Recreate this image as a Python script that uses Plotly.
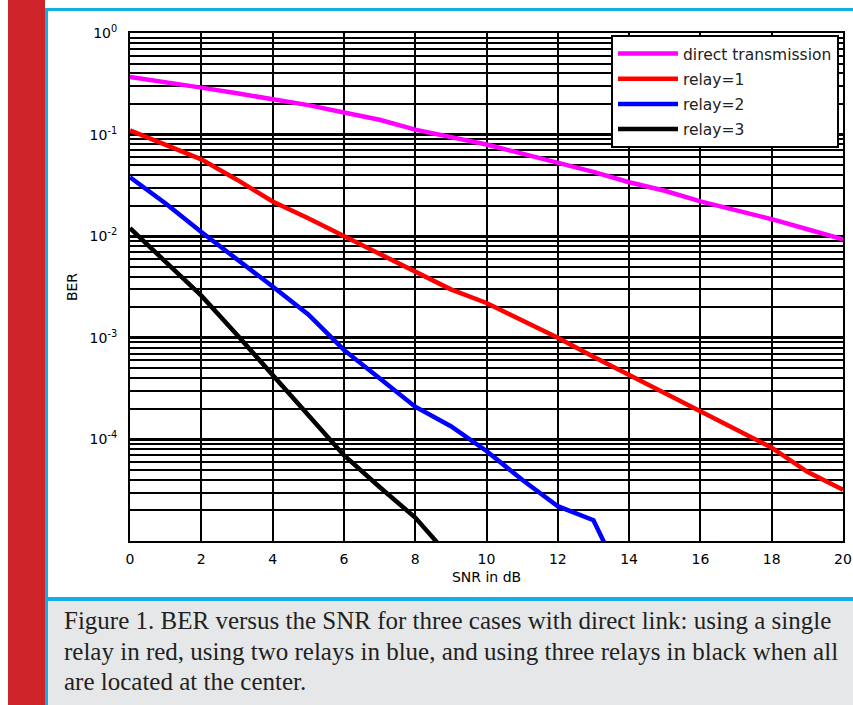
import plotly.graph_objects as go

# ---- data ----
snr = list(range(0, 21))
ber_direct = [0.37, 0.33, 0.29, 0.255, 0.225, 0.195, 0.165, 0.14, 0.112, 0.095, 0.080,
              0.065, 0.053, 0.043, 0.034, 0.028, 0.022, 0.018, 0.0147, 0.0117, 0.0093]
ber_relay1 = [0.11, 0.08, 0.057, 0.036, 0.022, 0.015, 0.010, 0.0066, 0.0044, 0.003, 0.0022,
              0.0015, 0.001, 6.5e-4, 4.3e-4, 2.8e-4, 1.9e-4, 1.25e-4, 8.3e-5, 4.8e-5, 3.2e-5]
snr_relay2 = list(range(0, 15))
ber_relay2 = [0.038, 0.021, 0.011, 0.006, 0.0032, 0.0017, 7.6e-4, 4.0e-4, 2.1e-4, 1.35e-4,
              7.7e-5, 4.0e-5, 2.2e-5, 1.6e-5, 3.0e-6]
snr_relay3 = list(range(0, 10))
ber_relay3 = [0.012, 5.6e-3, 2.6e-3, 1.07e-3, 4.3e-4, 1.7e-4, 7.0e-5, 3.4e-5, 1.7e-5, 6.8e-6]

series_names = ["direct transmission", "relay=1", "relay=2", "relay=3"]
series_colors = ["#ff00ff", "#ff0000", "#0000ff", "#000000"]

x_ticks = list(range(0, 21, 2))
y_major = [1, 1e-1, 1e-2, 1e-3, 1e-4]
y_major_text = ["10<sup>0</sup>", "10<sup>-1</sup>", "10<sup>-2</sup>", "10<sup>-3</sup>", "10<sup>-4</sup>"]
y_minor = [k * 10 ** e for e in range(-5, 0) for k in range(2, 10)]

caption_lines = [
    "Figure 1. BER versus the SNR for three cases with direct link: using a single",
    "relay in red, using two relays in blue, and using three relays in black when all",
    "are located at the center.",
]

# ---- page geometry ----
W, H = 853, 705
L, R, T, B = 130, 843, 33, 541


def px(x):
    return (x - L) / (R - L)


def py(y):
    return (B - y) / (B - T)


fig = go.Figure()
xs = [snr, snr, snr_relay2, snr_relay3]
ys = [ber_direct, ber_relay1, ber_relay2, ber_relay3]
for i in range(4):
    fig.add_trace(go.Scatter(
        x=xs[i], y=ys[i], mode="lines", name=series_names[i],
        legendgroup=str(i),
        line=dict(color=series_colors[i], width=4.5),
    ))

font = "DejaVu Sans"
fig.update_layout(
    width=W, height=H,
    margin=dict(l=L, r=W - R, t=T, b=H - B, autoexpand=False),
    paper_bgcolor="white", plot_bgcolor="white",
    font=dict(family=font, size=14, color="black"),
    showlegend=True,
    legend=dict(
        x=px(611), y=py(35), xanchor="left", yanchor="top",
        bgcolor="white", bordercolor="black", borderwidth=2,
        font=dict(family=font, size=15.5, color="#222"),
        itemwidth=60, tracegroupgap=2,
    ),
    xaxis=dict(
        range=[0, 20], tickvals=x_ticks, showgrid=True, gridcolor="black", gridwidth=2,
        showline=True, mirror=True, linecolor="black", linewidth=2,
        ticks="inside", ticklen=4, tickcolor="black", ticklabelstandoff=4,
        zeroline=False, automargin=False,
        title=dict(text="SNR in dB", standoff=6, font=dict(family=font, size=14)),
    ),
    yaxis=dict(
        type="log", range=[-5, 0], tickvals=y_major, ticktext=y_major_text,
        showgrid=True, gridcolor="black", gridwidth=3,
        minor=dict(tickvals=y_minor, showgrid=True, gridcolor="black", gridwidth=2, ticks=""),
        showline=True, mirror=True, linecolor="black", linewidth=2,
        ticks="inside", ticklen=4, tickcolor="black", ticklabelstandoff=8,
        zeroline=False, automargin=False,
        title=dict(text="BER", standoff=9, font=dict(family=font, size=14)),
    ),
)

shapes = [
    # red side bar
    dict(type="rect", xref="paper", yref="paper", x0=px(8), x1=px(45), y0=py(0), y1=py(705),
         fillcolor="#cf232a", line=dict(width=0), layer="below"),
    # caption box
    dict(type="rect", xref="paper", yref="paper", x0=px(47), x1=px(853), y0=py(601), y1=py(705),
         fillcolor="#e6e7e9", line=dict(width=0), layer="below"),
    # blue frame lines
    dict(type="rect", xref="paper", yref="paper", x0=px(45), x1=px(853), y0=py(8), y1=py(11),
         fillcolor="#12aee8", line=dict(width=0), layer="below"),
    dict(type="rect", xref="paper", yref="paper", x0=px(45), x1=px(48), y0=py(8), y1=py(705),
         fillcolor="#12aee8", line=dict(width=0), layer="below"),
    dict(type="rect", xref="paper", yref="paper", x0=px(45), x1=px(853), y0=py(597), y1=py(601),
         fillcolor="#12aee8", line=dict(width=0), layer="below"),
]
fig.update_layout(shapes=shapes)

line_y = [620, 651, 681]
for txt, yy in zip(caption_lines, line_y):
    fig.add_annotation(
        text=txt, xref="paper", yref="paper", x=px(62), y=py(yy),
        xanchor="left", yanchor="middle", showarrow=False,
        font=dict(family="Liberation Serif", size=25, color="#231f20"),
    )

fig.write_html("out.html")
